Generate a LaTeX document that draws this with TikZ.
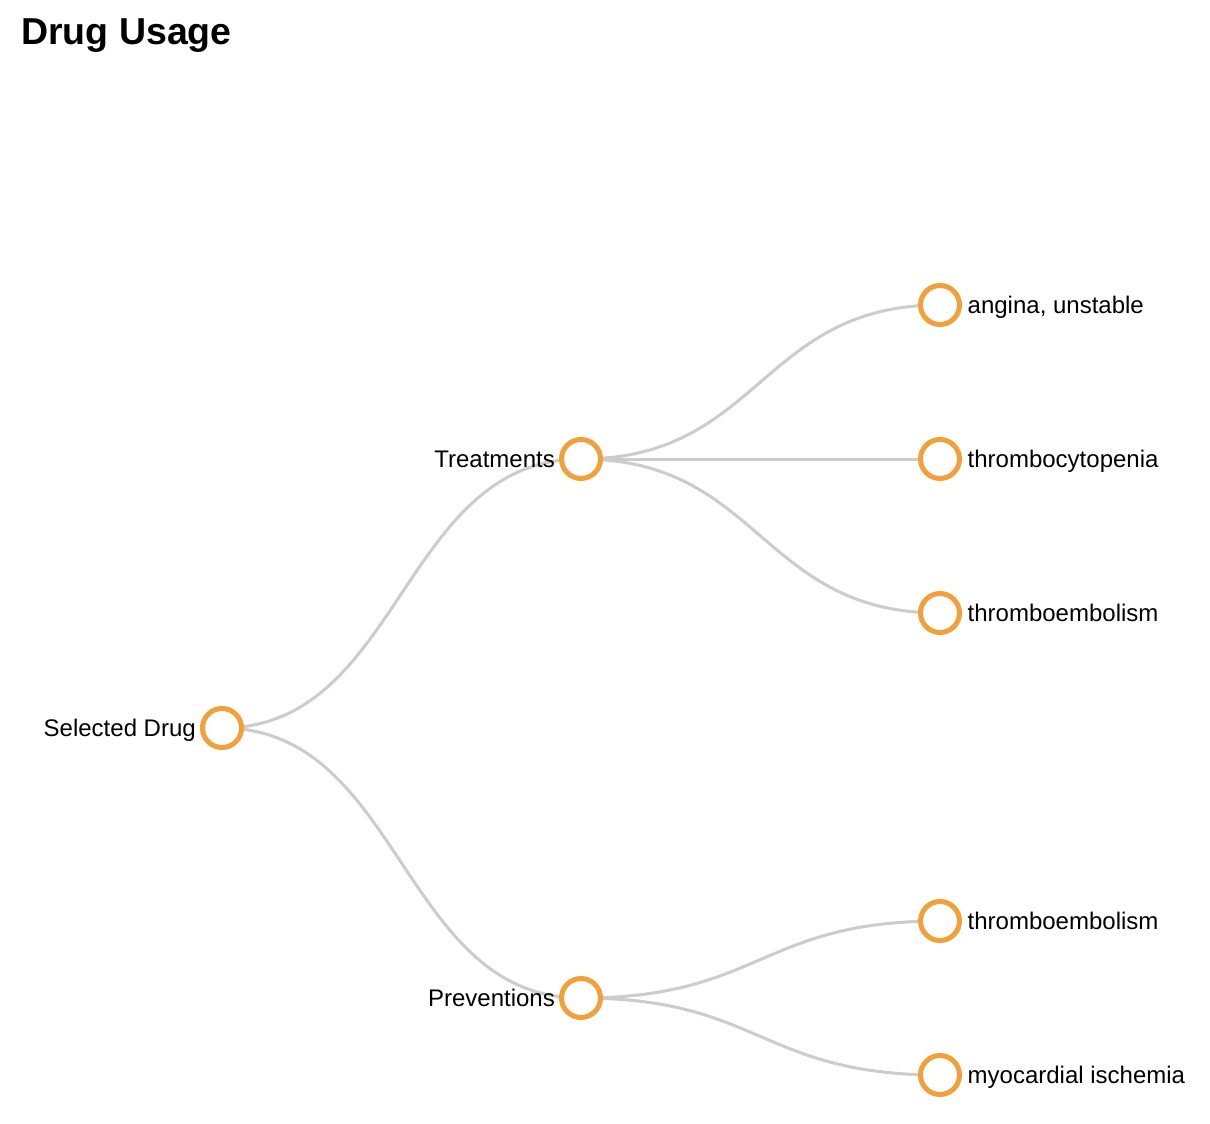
\documentclass[tikz,border=0pt]{standalone}
\usepackage{fontspec}
\setmainfont{Liberation Sans}
\usetikzlibrary{calc}
\definecolor{nodeorange}{HTML}{F2A03A}
\definecolor{linkgray}{HTML}{CCCCCC}
\tikzset{
  treenode/.style={circle, draw=nodeorange, line width=5pt, fill=white, minimum size=39pt, inner sep=0pt},
  linkline/.style={draw=linkgray, line width=3pt},
  leftlabel/.style={anchor=base east, inner sep=0pt, font=\fontsize{24}{28}\selectfont},
  rightlabel/.style={anchor=base west, inner sep=0pt, font=\fontsize{24}{28}\selectfont},
  titlestyle/.style={anchor=base west, inner sep=0pt, font=\fontsize{37.5}{42}\selectfont\bfseries}
}
\newcommand{\treelink}[2]{%
  \draw[linkline] let \p1=(#1.center), \p2=(#2.center) in
    (\p1) .. controls ({(\x1+\x2)/2},\y1) and ({(\x1+\x2)/2},\y2) .. (\p2);}
\begin{document}
\begin{tikzpicture}[x=1pt,y=-1pt]
\useasboundingbox (0,0) rectangle (1210,1124);
\fill[white] (0,0) rectangle (1210,1124);
\node[titlestyle] (title) at (21,45) {Drug Usage};
% node positions
\coordinate (root) at (222,728);
\coordinate (treat) at (581,459);
\coordinate (prev) at (581,998);
\coordinate (l1) at (940,305);
\coordinate (l2) at (940,459);
\coordinate (l3) at (940,613);
\coordinate (l4) at (940,921);
\coordinate (l5) at (940,1075);
% links
\treelink{root}{treat}
\treelink{root}{prev}
\treelink{treat}{l1}
\treelink{treat}{l2}
\treelink{treat}{l3}
\treelink{prev}{l4}
\treelink{prev}{l5}
% circles
\foreach \n in {root,treat,prev,l1,l2,l3,l4,l5}
  \node[treenode] (c\n) at (\n) {};
% labels
\node[leftlabel] (troot) at ([xshift=-26pt,yshift=-8.4pt]root) {Selected Drug};
\node[leftlabel] (ttreat) at ([xshift=-26pt,yshift=-8.4pt]treat) {Treatments};
\node[leftlabel] (tprev) at ([xshift=-26pt,yshift=-8.4pt]prev) {Preventions};
\node[rightlabel] (tl1) at ([xshift=27.5pt,yshift=-8.4pt]l1) {angina, unstable};
\node[rightlabel] (tl2) at ([xshift=27.5pt,yshift=-8.4pt]l2) {thrombocytopenia};
\node[rightlabel] (tl3) at ([xshift=27.5pt,yshift=-8.4pt]l3) {thromboembolism};
\node[rightlabel] (tl4) at ([xshift=27.5pt,yshift=-8.4pt]l4) {thromboembolism};
\node[rightlabel] (tl5) at ([xshift=27.5pt,yshift=-8.4pt]l5) {myocardial ischemia};
\end{tikzpicture}
\end{document}
